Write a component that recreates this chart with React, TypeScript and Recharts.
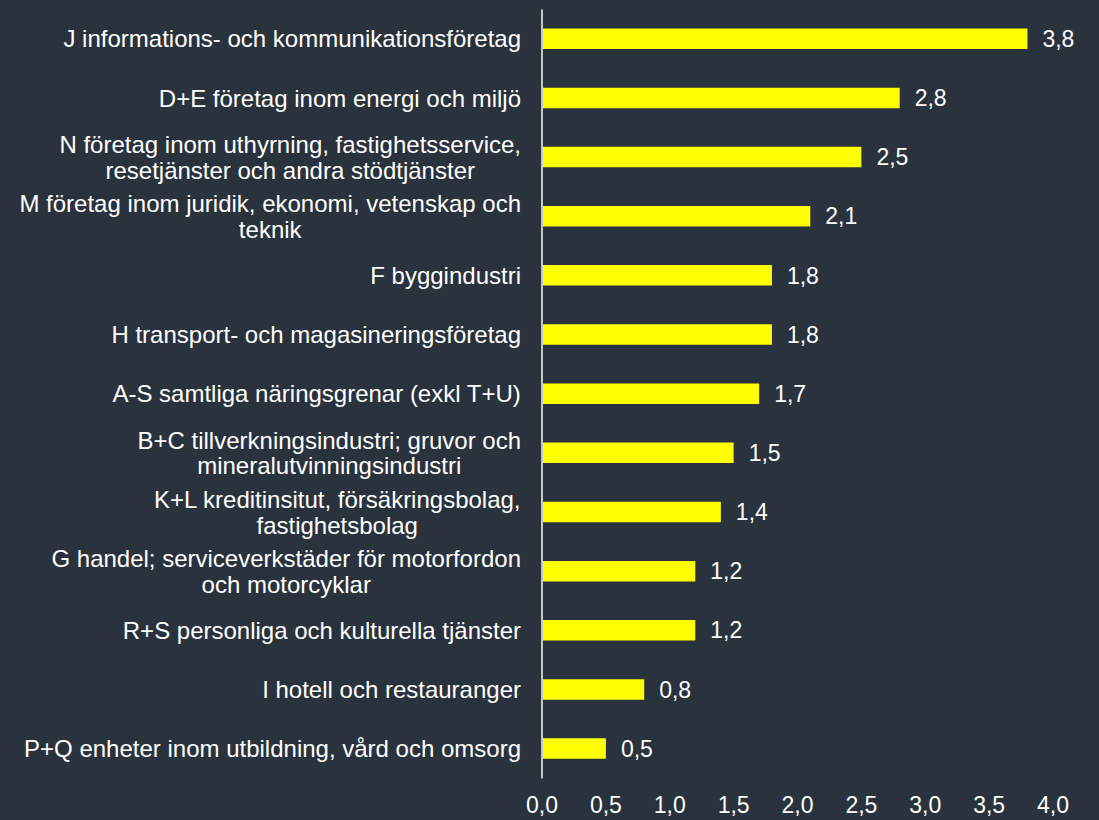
import React from 'react';
import { BarChart, Bar, XAxis, YAxis, LabelList } from 'recharts';

const CATEGORIES = [
  'J informations- och kommunikationsföretag',
  'D+E företag inom energi och miljö',
  'N företag inom uthyrning, fastighetsservice,\nresetjänster och andra stödtjänster',
  'M företag inom juridik, ekonomi, vetenskap och\nteknik',
  'F byggindustri',
  'H transport- och magasineringsföretag',
  'A-S samtliga näringsgrenar (exkl T+U)',
  'B+C tillverkningsindustri; gruvor och\nmineralutvinningsindustri',
  'K+L kreditinsitut, försäkringsbolag,\nfastighetsbolag',
  'G handel; serviceverkstäder för motorfordon\noch motorcyklar',
  'R+S personliga och kulturella tjänster',
  'I hotell och restauranger',
  'P+Q enheter inom utbildning, vård och omsorg',
];
const VALUES = [3.8, 2.8, 2.5, 2.1, 1.8, 1.8, 1.7, 1.5, 1.4, 1.2, 1.2, 0.8, 0.5];
const X_TICKS = [0, 0.5, 1, 1.5, 2, 2.5, 3, 3.5, 4];

const BG = '#29323d';
const FG = '#ffffff';
const FONT = '"Liberation Sans", Arial, sans-serif';
const FS = 23;
const CAT_FS = 24;

const data = CATEGORIES.map((name, i) => ({ name, value: VALUES[i] }));

const fmt = (v: number) => v.toFixed(1).replace('.', ',');

let ctx: CanvasRenderingContext2D | null = null;
function textWidth(s: string) {
  if (!ctx) ctx = document.createElement('canvas').getContext('2d');
  if (!ctx) return s.length * CAT_FS * 0.5;
  ctx.font = `${CAT_FS}px ${FONT}`;
  return ctx.measureText(s).width;
}

// right-aligned block, lines centred inside it
function CatTick(props: any) {
  const { x, y, payload } = props;
  const lines: string[] = String(payload.value).split('\n');
  const w = Math.max(...lines.map(textWidth));
  const cx = x - w / 2;
  const lh = 25.6;
  const y0 = y - ((lines.length - 1) * lh) / 2;
  return (
    <g>
      {lines.map((l, i) => (
        <text key={i} x={cx} y={y0 + i * lh} dy="0.35em" textAnchor="middle"
          fill={FG} fontSize={CAT_FS} fontFamily={FONT}>{l}</text>
      ))}
    </g>
  );
}

export default function App() {
  return (
    <div style={{ position: 'absolute', left: 0, top: 0, width: 1099, height: 820, background: BG }}>
      <BarChart width={1099} height={820} data={data} layout="vertical"
        margin={{ top: 9.5, right: 46, bottom: 0, left: 0 }} barCategoryGap={0}>
        <XAxis type="number" domain={[0, 4]} ticks={X_TICKS} axisLine={false} tickLine={false}
          tickSize={0} tickMargin={18} height={41.5} interval={0}
          tickFormatter={(v: number) => fmt(v)}
          tick={{ fill: FG, fontSize: FS, fontFamily: FONT }} />
        <YAxis type="category" dataKey="name" width={542} tickLine={false} tickSize={0} tickMargin={21}
          axisLine={{ stroke: '#c4c6ca', strokeWidth: 2 }} interval={0} tick={<CatTick />} />
        <Bar dataKey="value" fill="#ffff00" barSize={20.5} isAnimationActive={false}>
          <LabelList dataKey="value" position="right" offset={15} fill={FG} fontSize={FS}
            fontFamily={FONT} formatter={(v: any) => fmt(Number(v))} />
        </Bar>
      </BarChart>
    </div>
  );
}
